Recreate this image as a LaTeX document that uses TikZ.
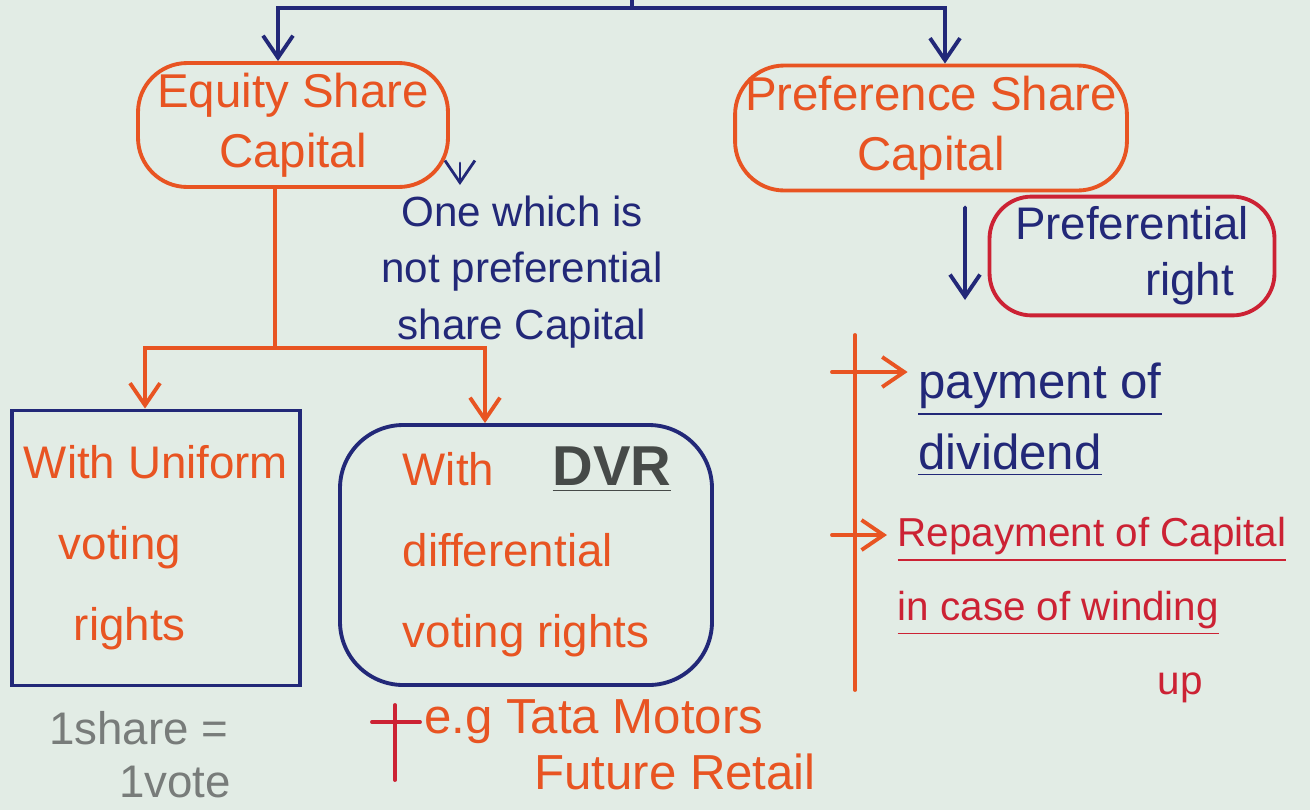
\documentclass[tikz,border=0pt]{standalone}
\usepackage{fontspec}
\setmainfont{Liberation Sans}
\usetikzlibrary{positioning}
\usetikzlibrary{arrows.meta}

\definecolor{paper}{RGB}{226,236,229}
\definecolor{orangeink}{RGB}{232,84,34}
\definecolor{navyink}{RGB}{34,40,120}
\definecolor{redink}{RGB}{204,34,52}
\definecolor{greyink}{RGB}{120,124,122}
\definecolor{darkink}{RGB}{70,74,72}

\begin{document}
\begin{tikzpicture}
	[x=0.1mm, y=-0.1mm,
	inkline/.style={line width=1.1pt, line cap=round},
	inkarrow/.style={inkline, -{Straight Barb[length=2.2mm, width=3mm]}},
	capnode/.style={draw=orangeink, line width=1.1pt, rounded corners=14pt, text=orangeink, align=center, inner sep=1mm, font=\fontsize{13.5}{17}\selectfont},
	votenode/.style={draw=navyink, line width=1.1pt, text=orangeink, align=left, inner sep=1mm, font=\fontsize{13}{23}\selectfont},
	notestyle/.style={align=center, inner sep=1mm, font=\fontsize{12}{16}\selectfont}
	]
	
	%paper
	\fill[paper] (0,0) rectangle (1310,810);
	\useasboundingbox (0,0) rectangle (1310,810);
	
	%Main boxes
	\node(Equity)[capnode, minimum width=31mm, minimum height=12mm] at (293,125) {Equity Share\\Capital};
	\node(Pref)[capnode, minimum width=38.7mm, minimum height=12.5mm] at (931,128) {Preference Share\\Capital};
	
	%Top fork
	\coordinate (Spine) at (632,0);
	\coordinate (Fork) at (632,8);
	\draw[inkline, navyink] (Spine) -- (Fork);
	\draw[inkarrow, navyink] (Fork) -| ([xshift=-1.5mm]Equity.north);
	\draw[inkarrow, navyink] (Fork) -| ([xshift=1.4mm]Pref.north);
	
	%Equity side
	\node(Note)[notestyle, text=navyink] at (522,272) {One which is\\not preferential\\share Capital};
	\draw[inkarrow, navyink, line width=0.8pt] ([xshift=1mm, yshift=-3.8mm]Equity.east) -- ++(0,22);
	
	\node(Uniform)[votenode, minimum width=28.8mm, minimum height=27.5mm] at (156,548) {With Uniform\\\hspace*{3.5mm}voting\\\hspace*{5mm}rights};
	\node(Diff)[votenode, rounded corners=18pt, minimum width=37.2mm, minimum height=26mm] at (526,555) {With\\differential\\voting rights};
	\node(DVR)[text=darkink, font=\fontsize{16}{20}\selectfont\bfseries] at (612,470) {\underline{DVR}};
	
	\coordinate (Split) at (275,348);
	\draw[inkline, orangeink] (Split |- Equity.south) -- (Split);
	\draw[inkarrow, orangeink] (Split) -| ([xshift=-1.1mm]Uniform.north);
	\draw[inkarrow, orangeink] (Split) -| ([xshift=-4.1mm]Diff.north);
	
	\node(OneVote)[notestyle, text=greyink, font=\fontsize{13}{15}\selectfont, align=left] at (140,755) {1share =\\\hspace*{7mm}1vote};
	\node(Example)[notestyle, text=orangeink, font=\fontsize{14}{16}\selectfont, align=left] at (620,745) {e.g Tata Motors\\\hspace*{11mm}Future Retail};
	\draw[inkline, redink] (395,705) -- (395,780);
	\draw[inkline, redink] (372,722) -- (420,722);
	
	%Preference side
	\node(Right)[draw=redink, line width=1.1pt, rounded corners=12pt, text=navyink, align=left, inner sep=1mm, font=\fontsize{13}{16}\selectfont, minimum width=28.5mm, minimum height=11.2mm] at (1132,256) {Preferential\\\hspace*{13mm}right};
	\coordinate (PrefEnd) at (965,300);
	\draw[inkarrow, navyink] ([xshift=3.4mm, yshift=-1.5mm]Pref.south) -- (PrefEnd);
	
	\coordinate (RailTop) at (855,335);
	\coordinate (RailBottom) at (855,690);
	\draw[inkline, orangeink] (RailTop) -- (RailBottom);
	
	\node(Dividend)[notestyle, text=navyink, font=\fontsize{14}{20}\selectfont, align=left] at (1040,420) {\underline{payment of}\\\underline{dividend}};
	\node(Repay)[notestyle, text=redink, font=\fontsize{11.5}{21}\selectfont, align=left] at (1092,610) {\underline{Repayment of Capital}\\\underline{in case of winding}\\\hspace*{26mm}up};
	
	%branches off the rail
	\draw[inkarrow, orangeink] (832,372) -- (Dividend.west |- 0,372);
	\draw[inkarrow, orangeink] (832,535) -- (Repay.west |- 0,535);
	
\end{tikzpicture}
\end{document}
